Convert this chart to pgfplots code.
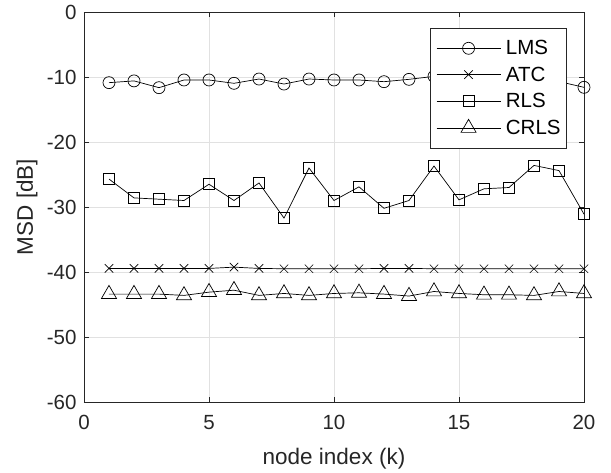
\documentclass[border=0pt]{standalone}
\usepackage{fontspec}
\setmainfont{Liberation Sans}
\usepackage{pgfplots}
\pgfplotsset{compat=1.18}
\definecolor{axgray}{rgb}{0.15,0.15,0.15}
\definecolor{gridgray}{RGB}{225,225,225}
\begin{document}
\begin{tikzpicture}
\useasboundingbox (-84pt,-70pt) rectangle (527pt,402pt);
\begin{axis}[
 scale only axis, width=500pt, height=390pt,
 xmin=0, xmax=20, ymin=-60, ymax=0,
 xtick={0,5,10,15,20}, ytick={-60,-50,-40,-30,-20,-10,0},
 xticklabels={0,5,10,15,20}, yticklabels={-60,-50,-40,-30,-20,-10,0},
 grid=major, major grid style={gridgray, line width=0.6pt},
 axis line style={axgray, line width=0.8pt},
 tick style={axgray, line width=0.8pt}, major tick length=5pt,
 tick label style={font=\fontsize{20.5}{24}\selectfont, text=axgray},
 xticklabel style={yshift=-10pt},
 yticklabel style={xshift=-4pt},
 xlabel={node index (k)}, ylabel={MSD [dB]},
 label style={font=\fontsize{22.5}{26}\selectfont, text=axgray},
 xlabel style={at={(axis description cs:0.5,-0.146)}, anchor=center},
 ylabel style={at={(axis description cs:-0.114,0.5)}, anchor=center},
 clip=false,
 legend style={at={(axis description cs:0.966,0.959)}, anchor=north east, draw=axgray, line width=0.8pt, fill=white,
   font=\fontsize{20.5}{24}\selectfont, inner xsep=6pt, inner ysep=12pt, row sep=10.5pt, column sep=5pt,
   nodes={inner sep=0pt}},
 legend cell align=left,
 legend image code/.code={\draw[mark repeat=2,mark phase=2] plot coordinates {(0pt,0pt) (32pt,0pt) (64pt,0pt)};},
]
\addplot[black, line width=0.7pt, mark=o, mark size=6pt, mark options={solid}] coordinates {
(1,-10.87) (2,-10.6) (3,-11.64) (4,-10.46) (5,-10.46) (6,-10.97) (7,-10.31) (8,-11.08) (9,-10.31) (10,-10.46)
(11,-10.46) (12,-10.72) (13,-10.36) (14,-9.9) (15,-10.2) (16,-10.5) (17,-10.4) (18,-10.6) (19,-10.7) (20,-11.59)};
\addlegendentry{LMS}
\addplot[black, line width=0.7pt, mark=x, mark size=6pt] coordinates {
(1,-39.45) (2,-39.45) (3,-39.45) (4,-39.45) (5,-39.45) (6,-39.25) (7,-39.45) (8,-39.5) (9,-39.5) (10,-39.5)
(11,-39.5) (12,-39.45) (13,-39.45) (14,-39.5) (15,-39.5) (16,-39.5) (17,-39.5) (18,-39.5) (19,-39.5) (20,-39.5)};
\addlegendentry{ATC}
\addplot[black, line width=0.7pt, mark=square, mark size=5.5pt] coordinates {
(1,-25.7) (2,-28.6) (3,-28.8) (4,-29.0) (5,-26.5) (6,-29.0) (7,-26.3) (8,-31.7) (9,-24.0) (10,-29.0)
(11,-26.9) (12,-30.2) (13,-29.0) (14,-23.7) (15,-28.9) (16,-27.2) (17,-27.0) (18,-23.6) (19,-24.4) (20,-31.1)};
\addlegendentry{RLS}
\addplot[black, line width=0.7pt, mark=triangle, mark size=8.7pt] coordinates {
(1,-43.4) (2,-43.4) (3,-43.4) (4,-43.6) (5,-43.1) (6,-42.8) (7,-43.6) (8,-43.3) (9,-43.6) (10,-43.3)
(11,-43.2) (12,-43.4) (13,-43.7) (14,-43.0) (15,-43.3) (16,-43.5) (17,-43.5) (18,-43.6) (19,-43.0) (20,-43.3)};
\addlegendentry{CRLS}
\end{axis}
\end{tikzpicture}
\end{document}
